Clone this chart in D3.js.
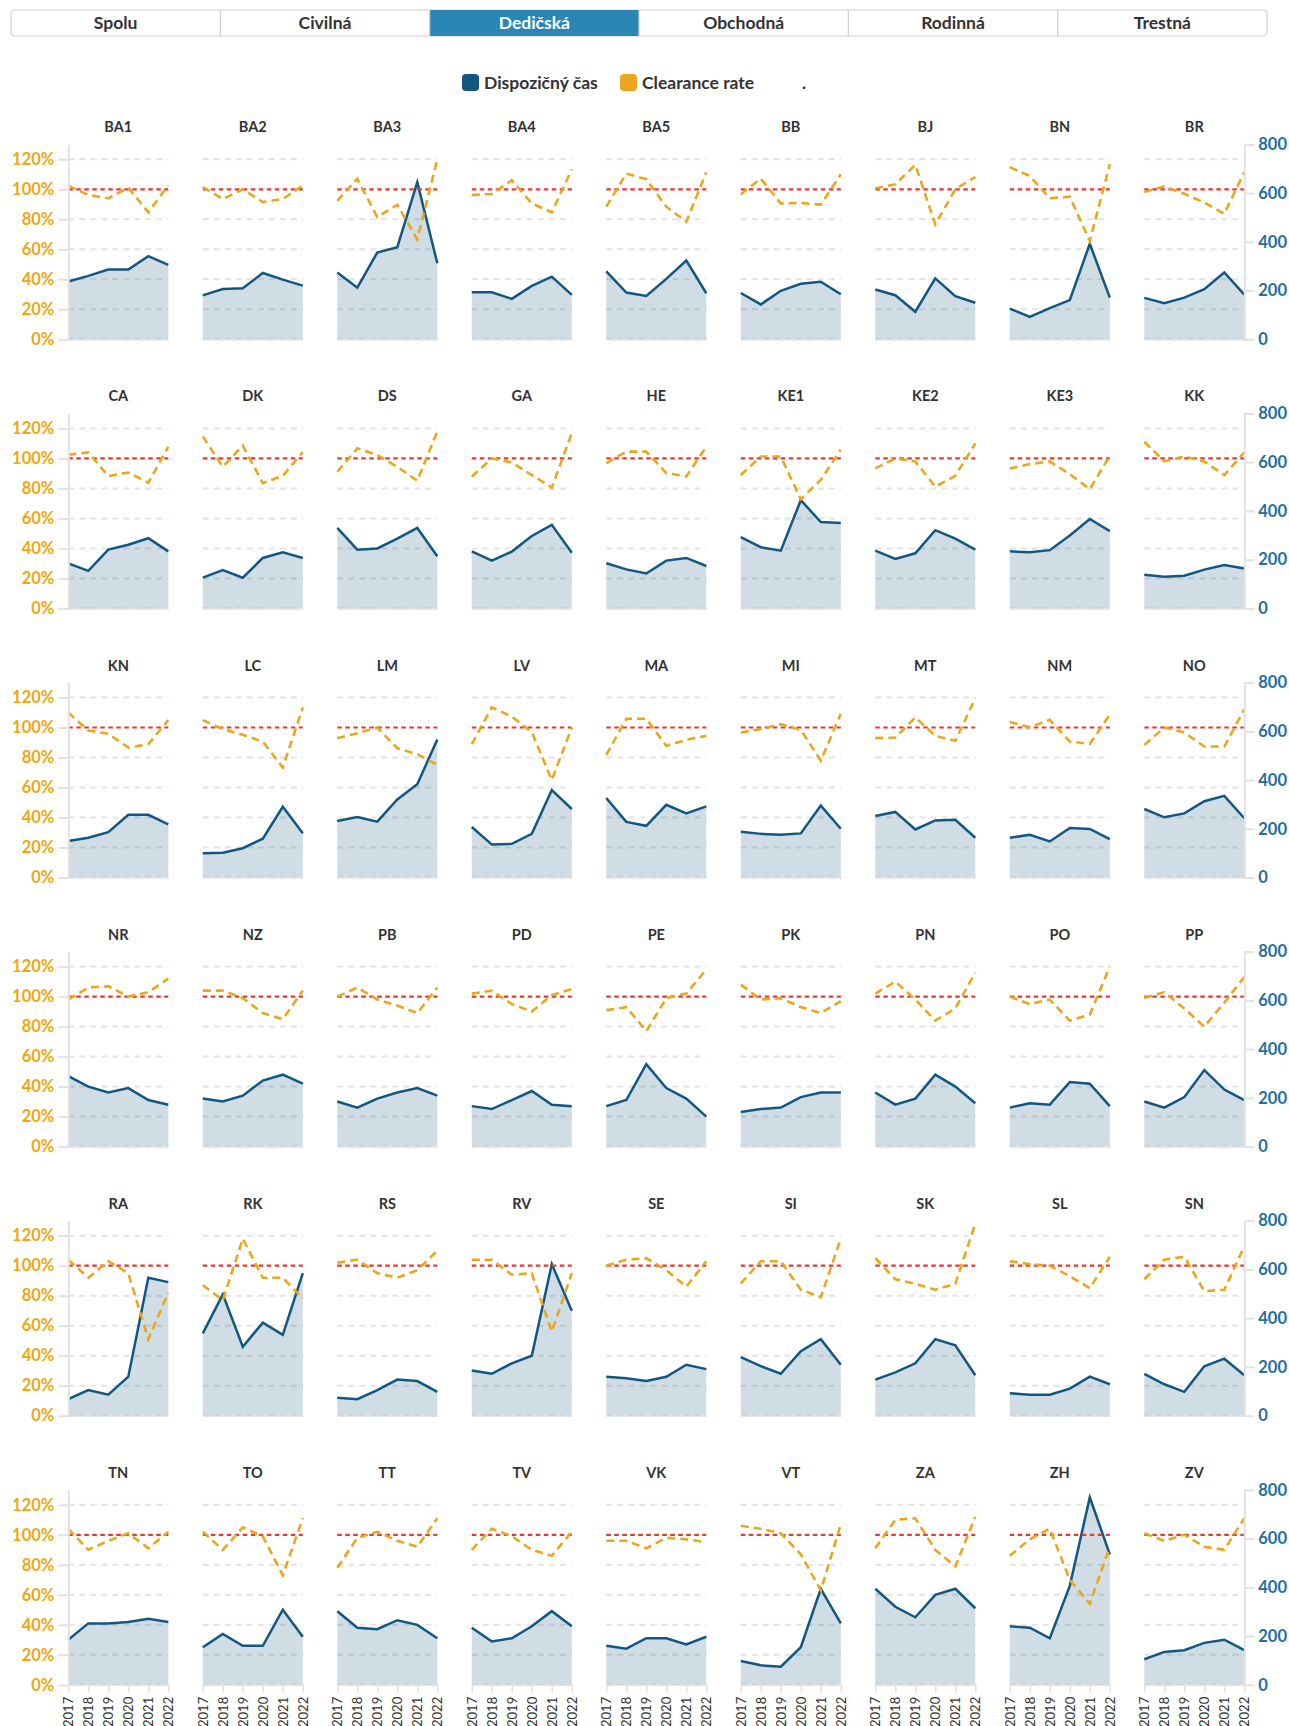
<!DOCTYPE html>
<html>
<head>
<meta charset="utf-8">
<script src="https://cdn.jsdelivr.net/npm/d3@7"></script>
<style>
  body { margin: 0; background: #fff; }
  svg { display: block; font-family: Lato, "Noto Sans", sans-serif; }
</style>
</head>
<body>
<svg id="chart" width="1289" height="1726"></svg>
<script>
// ---- data ----------------------------------------------------------------
const tabs = ["Spolu", "Civilná", "Dedičská", "Obchodná", "Rodinná", "Trestná"];
const activeTab = "Dedičská";

const years = [2017, 2018, 2019, 2020, 2021, 2022];

const courts = [
  "BA1", "BA2", "BA3", "BA4", "BA5", "BB", "BJ", "BN", "BR",
  "CA", "DK", "DS", "GA", "HE", "KE1", "KE2", "KE3", "KK",
  "KN", "LC", "LM", "LV", "MA", "MI", "MT", "NM", "NO",
  "NR", "NZ", "PB", "PD", "PE", "PK", "PN", "PO", "PP",
  "RA", "RK", "RS", "RV", "SE", "SI", "SK", "SL", "SN",
  "TN", "TO", "TT", "TV", "VK", "VT", "ZA", "ZH", "ZV"
];

// disposition time in days, one row per court, 2017–2022
const dispTime = [
  [237, 260, 286, 286, 341, 305], [180, 206, 209, 272, 245, 220], [274, 212, 356, 378, 645, 312],
  [193, 193, 166, 219, 257, 182], [279, 192, 178, 248, 323, 189], [190, 143, 199, 228, 236, 185],
  [204, 181, 113, 250, 177, 150], [126, 92, 128, 161, 392, 171], [170, 148, 171, 206, 274, 183],

  [185, 154, 241, 261, 288, 234], [126, 157, 126, 207, 230, 207], [330, 241, 246, 286, 330, 214],
  [234, 196, 233, 297, 343, 228], [185, 160, 143, 196, 207, 174], [292, 251, 237, 444, 354, 350],
  [237, 203, 226, 321, 286, 241], [234, 230, 239, 299, 367, 317], [138, 130, 134, 159, 178, 164],

  [150, 163, 186, 257, 257, 218], [99, 102, 120, 159, 290, 182], [232, 248, 229, 320, 383, 566],
  [207, 135, 138, 179, 359, 281], [326, 228, 212, 298, 263, 292], [188, 179, 175, 181, 295, 200],
  [252, 269, 197, 234, 237, 163], [163, 175, 148, 203, 199, 157], [281, 247, 263, 313, 335, 243],

  [289, 246, 222, 240, 191, 172], [197, 185, 209, 271, 295, 258], [185, 160, 197, 222, 240, 209],
  [166, 154, 191, 228, 172, 166], [166, 191, 338, 240, 197, 123], [142, 154, 160, 203, 222, 222],
  [222, 172, 197, 295, 246, 178], [160, 178, 172, 265, 258, 166], [185, 160, 203, 314, 234, 191],

  [68, 105, 86, 160, 566, 548], [338, 498, 283, 382, 332, 585], [74, 68, 105, 148, 142, 98],
  [185, 172, 215, 246, 622, 431], [160, 154, 142, 160, 209, 191], [240, 203, 172, 265, 314, 209],
  [148, 178, 215, 314, 289, 166], [92, 86, 86, 111, 160, 129], [172, 129, 98, 203, 234, 166],

  [185, 252, 252, 258, 271, 258], [154, 209, 160, 160, 308, 197], [302, 234, 228, 265, 246, 191],
  [234, 178, 191, 240, 302, 240], [160, 148, 191, 191, 166, 197], [98, 80, 74, 154, 394, 252],
  [394, 320, 277, 369, 394, 314], [240, 234, 191, 406, 769, 535], [105, 135, 142, 172, 185, 142]
];

// clearance rate (resolved / incoming), one row per court, 2017–2022
const clearanceRate = [
  [1.024, 0.962, 0.940, 1.011, 0.846, 1.027], [1.015, 0.935, 1.000, 0.915, 0.935, 1.025], [0.923, 1.070, 0.815, 0.897, 0.666, 1.200],
  [0.962, 0.969, 1.060, 0.906, 0.846, 1.134], [0.884, 1.105, 1.067, 0.884, 0.784, 1.114], [0.967, 1.071, 0.906, 0.909, 0.898, 1.100],
  [1.007, 1.033, 1.163, 0.766, 1.000, 1.082], [1.147, 1.089, 0.940, 0.951, 0.655, 1.167], [0.982, 1.020, 0.970, 0.912, 0.837, 1.114],

  [1.024, 1.040, 0.882, 0.906, 0.837, 1.078], [1.147, 0.944, 1.085, 0.835, 0.884, 1.042], [0.911, 1.067, 1.022, 0.944, 0.851, 1.180],
  [0.878, 1.000, 0.973, 0.889, 0.806, 1.167], [0.969, 1.045, 1.045, 0.902, 0.880, 1.078], [0.889, 1.013, 1.013, 0.728, 0.857, 1.058],
  [0.933, 1.000, 0.980, 0.811, 0.884, 1.100], [0.933, 0.962, 0.980, 0.895, 0.795, 1.018], [1.111, 0.980, 1.013, 0.980, 0.889, 1.040],

  [1.100, 0.980, 0.958, 0.866, 0.889, 1.049], [1.049, 0.989, 0.951, 0.906, 0.733, 1.134], [0.929, 0.962, 1.000, 0.862, 0.822, 0.751],
  [0.889, 1.134, 1.073, 0.969, 0.650, 1.000], [0.817, 1.058, 1.058, 0.878, 0.918, 0.944], [0.967, 0.989, 1.022, 0.984, 0.779, 1.091],
  [0.929, 0.933, 1.067, 0.944, 0.911, 1.196], [1.036, 1.002, 1.051, 0.906, 0.891, 1.085], [0.884, 1.000, 0.967, 0.873, 0.873, 1.122],

  [0.98, 1.06, 1.07, 1.00, 1.03, 1.12], [1.04, 1.04, 0.99, 0.89, 0.85, 1.04], [1.00, 1.06, 0.98, 0.94, 0.89, 1.06],
  [1.02, 1.04, 0.95, 0.90, 1.01, 1.05], [0.91, 0.93, 0.77, 0.99, 1.02, 1.18], [1.08, 0.98, 0.99, 0.93, 0.89, 0.97],
  [1.02, 1.10, 0.98, 0.84, 0.92, 1.16], [1.00, 0.95, 0.98, 0.84, 0.88, 1.20], [0.99, 1.03, 0.92, 0.80, 0.96, 1.13],

  [1.04, 0.92, 1.03, 0.95, 0.51, 0.82], [0.87, 0.77, 1.18, 0.92, 0.92, 0.78], [1.02, 1.04, 0.95, 0.92, 0.97, 1.10],
  [1.04, 1.04, 0.94, 0.95, 0.56, 0.95], [1.00, 1.04, 1.05, 0.97, 0.86, 1.03], [0.88, 1.03, 1.03, 0.84, 0.79, 1.18],
  [1.05, 0.91, 0.88, 0.84, 0.88, 1.28], [1.03, 1.01, 1.00, 0.93, 0.85, 1.06], [0.91, 1.04, 1.06, 0.83, 0.84, 1.13],

  [1.04, 0.90, 0.96, 1.01, 0.91, 1.02], [1.02, 0.90, 1.05, 0.99, 0.73, 1.11], [0.78, 0.98, 1.02, 0.96, 0.92, 1.11],
  [0.90, 1.04, 0.99, 0.90, 0.86, 1.02], [0.96, 0.96, 0.91, 0.98, 0.97, 0.95], [1.06, 1.04, 1.01, 0.87, 0.63, 1.07],
  [0.91, 1.10, 1.11, 0.90, 0.79, 1.12], [0.86, 0.97, 1.04, 0.70, 0.54, 0.92], [1.01, 0.96, 1.00, 0.92, 0.90, 1.11]
];

const rateTicks = [0, 0.2, 0.4, 0.6, 0.8, 1.0, 1.2];
const dayTicks = [0, 200, 400, 600, 800];
const legendLabels = ["Dispozičný čas", "Clearance rate", "."];

// ---- styling & layout -------------------------------------------------------
const C = {
  disp: "#12577f",
  rate: "#eaa71b",
  target: "#e53a33",
  rateAxis: "#f0a70c",
  dayAxis: "#246f9e",
  grid: "#e4e4e4",
  axis: "#e2e2e2",
  text: "#333333",
  tabActive: "#2a86b4",
  tabBorder: "#cfcfcf"
};
const FONT = "Lato, 'Noto Sans', sans-serif";

const cols = 9;
const panelW = 100, panelH = 195;
const colStep = 134.5, rowStep = 269.1;
const originX = 68.3, originY = 144.3;

const svg = d3.select("#chart");

// ---- tab bar ---------------------------------------------------------------
const tabX0 = 11, tabX1 = 1267, tabY = 10, tabH = 26;
const tabScale = d3.scaleBand().domain(tabs).range([tabX0, tabX1]);
const tabG = svg.append("g");
tabG.append("rect")
  .attr("x", tabX0).attr("y", tabY).attr("width", tabX1 - tabX0).attr("height", tabH)
  .attr("rx", 4).attr("fill", "#fff").attr("stroke", C.tabBorder).attr("stroke-width", 1.2);
tabG.selectAll("rect.active").data(tabs.filter(t => t === activeTab)).join("rect")
  .attr("class", "active")
  .attr("x", d => tabScale(d)).attr("y", tabY).attr("width", tabScale.bandwidth()).attr("height", tabH)
  .attr("fill", C.tabActive);
tabG.selectAll("line.sep").data(tabs.slice(1)).join("line")
  .attr("class", "sep")
  .attr("x1", d => tabScale(d)).attr("x2", d => tabScale(d))
  .attr("y1", tabY).attr("y2", tabY + tabH)
  .attr("stroke", C.tabBorder).attr("stroke-width", 1.2);
tabG.selectAll("text").data(tabs).join("text")
  .attr("x", d => tabScale(d) + tabScale.bandwidth() / 2)
  .attr("y", tabY + 19)
  .attr("text-anchor", "middle")
  .attr("font-size", 17.5).attr("font-weight", 700)
  .attr("fill", d => d === activeTab ? "#fff" : C.text)
  .text(d => d);

// ---- legend ----------------------------------------------------------------
const legendG = svg.append("g").attr("transform", "translate(462,74)");
const legendColors = [C.disp, C.rate, null];
const legendOffsets = [0, 158, 340];
legendLabels.forEach((label, i) => {
  const g = legendG.append("g").attr("transform", `translate(${legendOffsets[i]},0)`);
  if (legendColors[i]) {
    g.append("rect").attr("width", 17).attr("height", 17).attr("rx", 4).attr("fill", legendColors[i]);
  }
  g.append("text").attr("x", legendColors[i] ? 22 : 0).attr("y", 14.5)
    .attr("font-size", 17.5).attr("font-weight", 700).attr("fill", C.text).text(label);
});

// ---- scales ----------------------------------------------------------------
const x = d3.scalePoint().domain(years).range([0, panelW]);
const yRate = d3.scaleLinear().domain([0, 1.3]).range([panelH, 0]);
const yDays = d3.scaleLinear().domain([0, 800]).range([panelH, 0]);

const area = d3.area()
  .x((d, i) => x(years[i]))
  .y0(panelH)
  .y1(d => yDays(d));
const dispLine = d3.line().x((d, i) => x(years[i])).y(d => yDays(d));
const rateLine = d3.line().x((d, i) => x(years[i])).y(d => yRate(d));

const nRows = Math.ceil(courts.length / cols);

// ---- small multiples --------------------------------------------------------
courts.forEach((court, i) => {
  const col = i % cols, row = Math.floor(i / cols);
  const g = svg.append("g")
    .attr("transform", `translate(${originX + col * colStep},${originY + row * rowStep})`);

  // dashed grid on the rate scale
  g.selectAll("line.grid").data(rateTicks.filter(t => t !== 1)).join("line")
    .attr("class", "grid")
    .attr("x1", 0).attr("x2", panelW)
    .attr("y1", d => yRate(d)).attr("y2", d => yRate(d))
    .attr("stroke", C.grid).attr("stroke-width", 2).attr("stroke-dasharray", "6,5");

  // disposition time: filled area + line
  g.append("path").datum(dispTime[i]).attr("d", area)
    .attr("fill", C.disp).attr("fill-opacity", 0.2);
  g.append("path").datum(dispTime[i]).attr("d", dispLine)
    .attr("fill", "none").attr("stroke", C.disp).attr("stroke-width", 2.5)
    .attr("stroke-linejoin", "miter");

  // 100 % reference
  g.append("line")
    .attr("x1", 0).attr("x2", panelW)
    .attr("y1", yRate(1)).attr("y2", yRate(1))
    .attr("stroke", C.target).attr("stroke-width", 2.2).attr("stroke-dasharray", "4.5,3.5");

  // clearance rate
  g.append("path").datum(clearanceRate[i]).attr("d", rateLine)
    .attr("fill", "none").attr("stroke", C.rate).attr("stroke-width", 2.6)
    .attr("stroke-dasharray", "8,5");

  // court title
  g.append("text")
    .attr("x", panelW / 2).attr("y", -12)
    .attr("text-anchor", "middle")
    .attr("font-size", 14.5).attr("font-weight", 700).attr("fill", C.text)
    .text(court);

  // left percentage axis
  if (col === 0) {
    const ax = g.append("g").call(
      d3.axisLeft(yRate).tickValues(rateTicks).tickFormat(d3.format(".0%"))
        .tickSize(10).tickSizeOuter(0).tickPadding(4));
    ax.select(".domain").attr("stroke", C.axis).attr("stroke-width", 2);
    ax.selectAll(".tick line").attr("stroke", C.axis).attr("stroke-width", 2);
    ax.selectAll(".tick text")
      .attr("fill", C.rateAxis).attr("font-size", 16.5).attr("font-weight", 700)
      .attr("font-family", FONT);
  }

  // right day axis
  if (col === cols - 1) {
    const ax = g.append("g").attr("transform", `translate(${panelW},0)`).call(
      d3.axisRight(yDays).tickValues(dayTicks).tickFormat(d3.format("d"))
        .tickSize(10).tickSizeOuter(0).tickPadding(4));
    ax.select(".domain").attr("stroke", C.axis).attr("stroke-width", 2);
    ax.selectAll(".tick line").attr("stroke", C.axis).attr("stroke-width", 2);
    ax.selectAll(".tick text")
      .attr("fill", C.dayAxis).attr("font-size", 16.5).attr("font-weight", 700)
      .attr("font-family", FONT);
  }

  // year axis
  const xa = g.append("g").attr("transform", `translate(0,${panelH})`).call(
    d3.axisBottom(x).tickSize(row === nRows - 1 ? 8 : 0).tickSizeOuter(0)
      .tickFormat(row === nRows - 1 ? d3.format("d") : () => ""));
  xa.select(".domain").attr("stroke", C.axis).attr("stroke-width", 1.5);
  xa.selectAll(".tick line").attr("stroke", C.axis).attr("stroke-width", 1.5);
  xa.selectAll(".tick text")
    .attr("transform", "rotate(-90)")
    .attr("x", -12).attr("y", 0).attr("dy", "0.35em")
    .attr("text-anchor", "end")
    .attr("fill", C.text).attr("font-size", 13)
    .attr("font-family", FONT);
});
</script>
</body>
</html>
